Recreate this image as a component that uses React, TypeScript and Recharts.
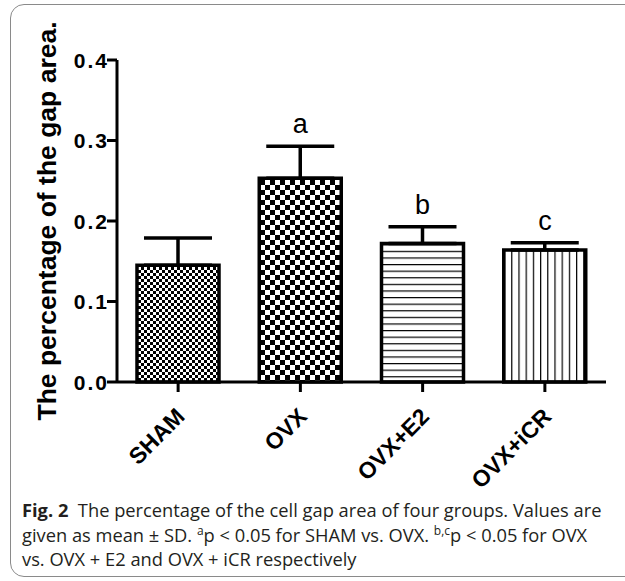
import React from "react"
import { ComposedChart, Bar, Line, XAxis, YAxis, ErrorBar, Cell, LabelList } from "recharts"

const groups = ["SHAM", "OVX", "OVX+E2", "OVX+iCR"]
const means = [0.145, 0.253, 0.172, 0.164]
const sds = [0.034, 0.040, 0.021, 0.009]
const marks = ["", "a", "b", "c"]
const yTicks = [0, 0.1, 0.2, 0.3, 0.4]

const patternIds = ["fineCheck", "bigCheck", "hLines", "vLines"]

const data = groups.map((g, i) => ({
  group: g,
  mean: means[i],
  err: [0, sds[i]],
  top: means[i] + sds[i],
  mark: marks[i],
}))

const arial = "'Liberation Sans', Arial, Helvetica, sans-serif"

const XTick = (props: any) => {
  const { x, y, payload } = props
  return (
    <g transform={`translate(${x + 8},${y + 24})`}>
      <text textAnchor="end" transform="rotate(-45)" fontSize={23} fontWeight="bold" fontFamily={arial} fill="#000">
        {payload.value}
      </text>
    </g>
  )
}

const YTick = (props: any) => {
  const { x, y, payload } = props
  return (
    <text x={x + 2} y={y} dy="0.36em" textAnchor="end" fontSize={21} fontWeight="bold" fontFamily={arial} fill="#000" letterSpacing={2}>
      {payload.value.toFixed(1)}
    </text>
  )
}

const YLabel = () => (
  <text
    x={47}
    y={221}
    transform="rotate(-90 47 221)"
    textAnchor="middle"
    dominantBaseline="central"
    fontSize={26.5}
    fontWeight="bold"
    fontFamily={arial}
    fill="#000"
  >
    The percentage of the gap area.
  </text>
)

export default function App() {
  return (
    <div style={{ position: "absolute", left: 0, top: 0, width: 625, height: 581, overflow: "hidden", background: "#fff" }}>
      <div
        style={{
          position: "absolute",
          left: 10,
          top: 4,
          width: 650,
          height: 573,
          border: "1.5px solid #8a8a8a",
          borderRadius: 14,
          boxSizing: "border-box",
        }}
      />
      <div style={{ position: "absolute", left: 0, top: 0 }}>
        <ComposedChart width={625} height={500} data={data} margin={{ top: 60, right: 19, bottom: 38, left: 57 }}>
          <defs>
            <pattern id="fineCheck" width="6" height="6" patternUnits="userSpaceOnUse">
              <rect width="6" height="6" fill="#fff" />
              <rect x="0" y="0" width="3" height="3" fill="#000" />
              <rect x="3" y="3" width="3" height="3" fill="#000" />
            </pattern>
            <pattern id="bigCheck" width="10" height="10" patternUnits="userSpaceOnUse">
              <rect width="10" height="10" fill="#fff" />
              <rect x="0" y="0" width="5" height="5" fill="#000" />
              <rect x="5" y="5" width="5" height="5" fill="#000" />
            </pattern>
            <pattern id="hLines" width="10" height="6.6" patternUnits="userSpaceOnUse">
              <rect width="10" height="6.6" fill="#fff" />
              <rect x="0" y="0" width="10" height="1.2" fill="#000" />
            </pattern>
            <pattern id="vLines" width="7.2" height="10" patternUnits="userSpaceOnUse">
              <rect width="7.2" height="10" fill="#fff" />
              <rect x="0" y="0" width="1.2" height="10" fill="#000" />
            </pattern>
          </defs>
          <XAxis
            dataKey="group"
            height={80}
            axisLine={{ stroke: "#000", strokeWidth: 3 }}
            tickLine={{ stroke: "#000", strokeWidth: 3 }}
            tickSize={10}
            tick={<XTick />}
            interval={0}
          />
          <YAxis
            width={60}
            domain={[0, 0.4]}
            ticks={yTicks}
            axisLine={{ stroke: "#000", strokeWidth: 3 }}
            tickLine={{ stroke: "#000", strokeWidth: 3 }}
            tickSize={10}
            tickMargin={0}
            tick={<YTick />}
            label={<YLabel />}
          />
          <Bar dataKey="mean" barSize={82} stroke="#000" strokeWidth={3.5} isAnimationActive={false}>
            {data.map((d, i) => (
              <Cell key={d.group} fill={`url(#${patternIds[i]})`} />
            ))}
            <ErrorBar dataKey="err" direction="y" width={34} stroke="#000" strokeWidth={3.5} />
          </Bar>
          <Line dataKey="top" stroke="none" dot={false} activeDot={false} isAnimationActive={false}>
            <LabelList dataKey="mark" position="top" offset={13} fontSize={27} fontFamily={arial} fill="#000" />
          </Line>
        </ComposedChart>
      </div>
      <div
        style={{
          position: "absolute",
          left: 22,
          top: 498,
          fontFamily: "'Open Sans', 'Noto Sans', sans-serif",
          fontSize: 18.3,
          lineHeight: "24.5px",
          color: "#231f20",
          whiteSpace: "nowrap",
        }}
      >
        <div>
          <b>Fig. 2</b>&nbsp; The percentage of the cell gap area of four groups. Values are
        </div>
        <div>
          given as mean ± SD. <sup style={{ fontSize: 12, lineHeight: 0 }}>a</sup>p &lt; 0.05 for SHAM vs. OVX.{" "}
          <sup style={{ fontSize: 12, lineHeight: 0 }}>b,c</sup>p &lt; 0.05 for OVX
        </div>
        <div>vs. OVX + E2 and OVX + iCR respectively</div>
      </div>
    </div>
  )
}
